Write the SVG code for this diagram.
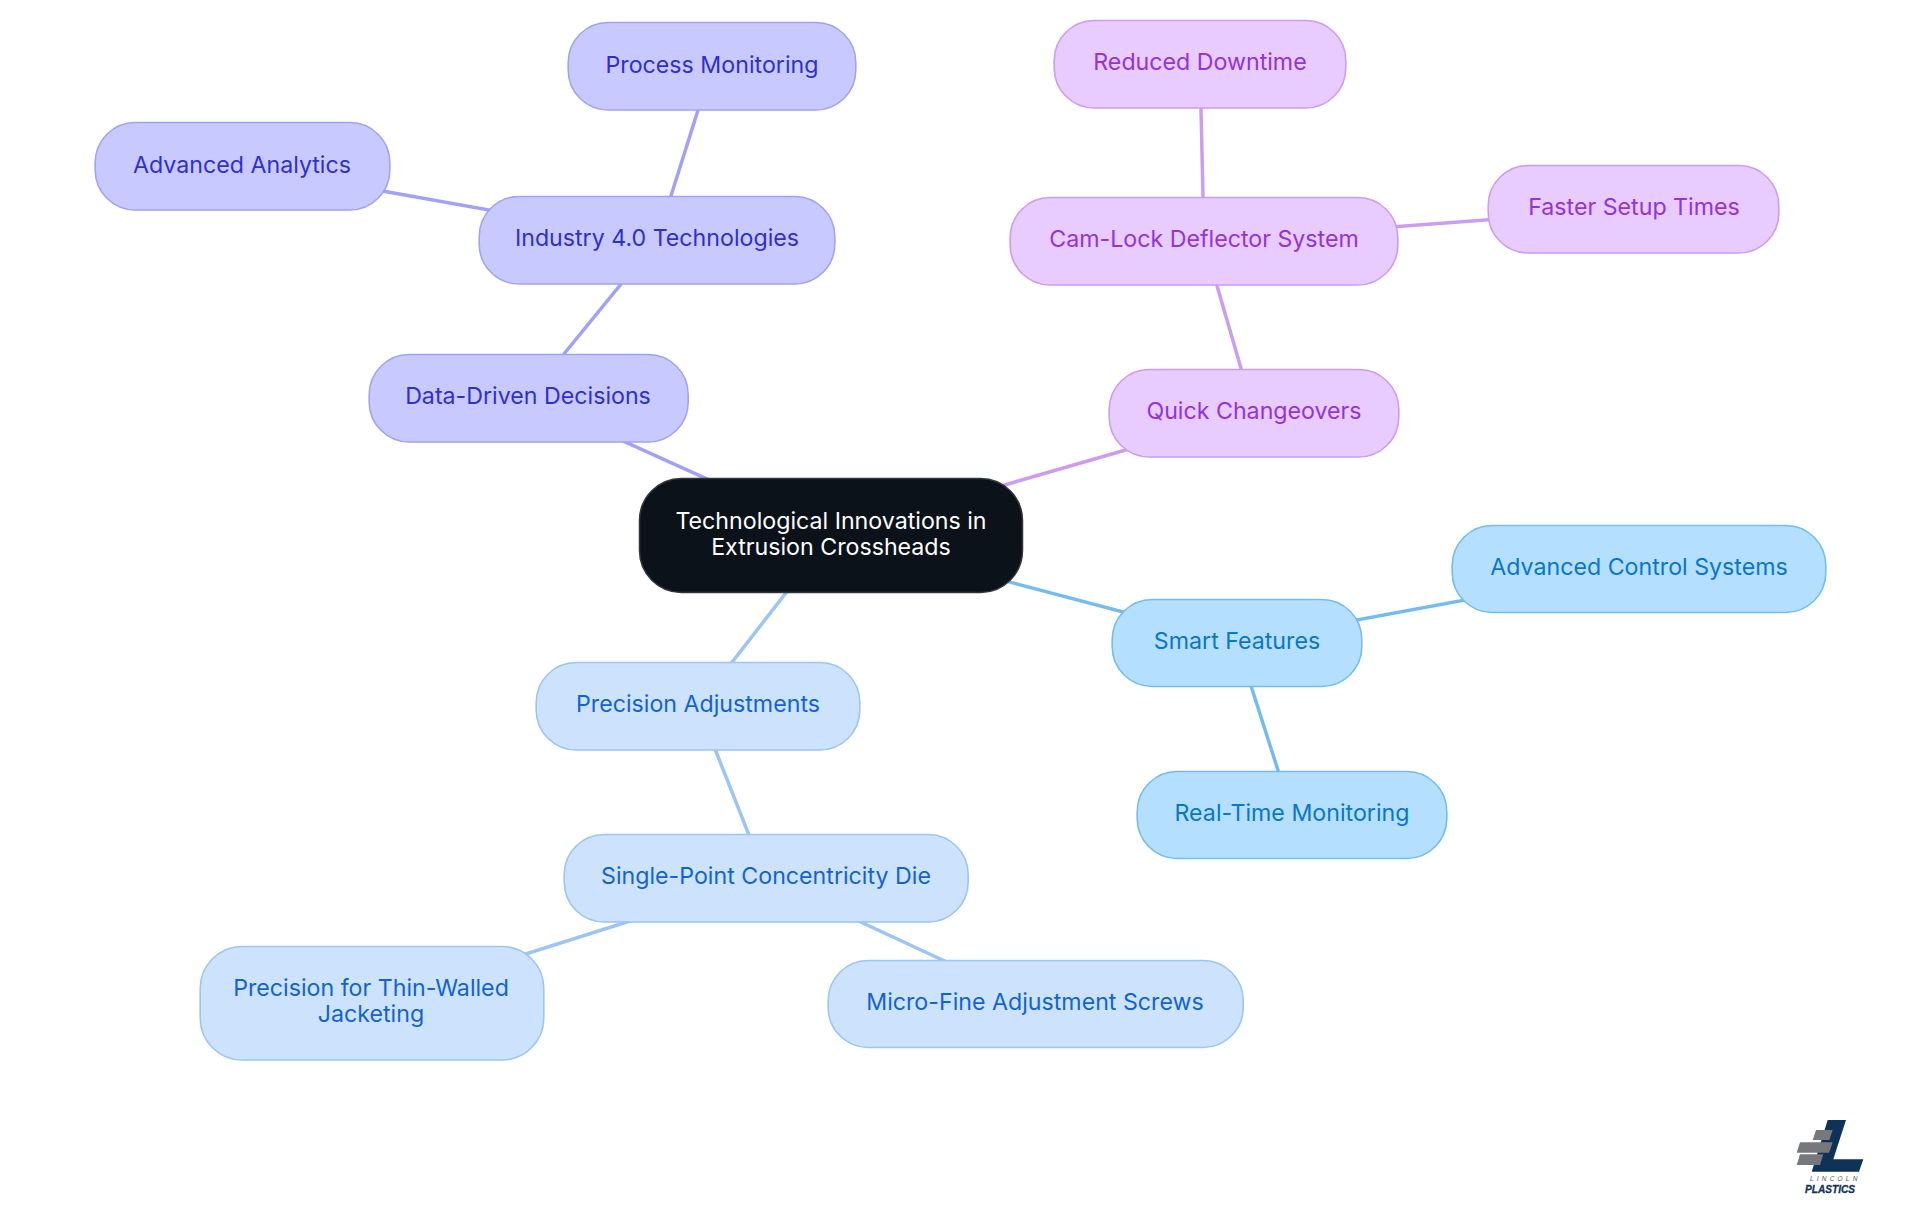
<svg xmlns="http://www.w3.org/2000/svg" width="1920" height="1215" viewBox="0 0 1920 1215">
<style>
.n{stroke-width:1.6}
.t{font-family:"Inter","Noto Sans",sans-serif;font-size:23.2px;text-anchor:middle}
.c line{stroke-width:3.5;fill:none}
.b1 rect{fill:#c8caff;stroke:#a0a3f5}.b1 text{fill:#2f2fd0}
.b2 rect{fill:#e8cbff;stroke:#cc9cf2}.b2 text{fill:#9333dc}
.b3 rect{fill:#cde3fd;stroke:#9cc4f4}.b3 text{fill:#1263d2}
.b4 rect{fill:#b5dfff;stroke:#74bcf0}.b4 text{fill:#0877c8}
</style>
<rect width="1920" height="1215" fill="#fff"/>
<g id="connectors" class="c">
<g stroke="#a0a3f5"><line x1="831" y1="535" x2="528" y2="398"/><line x1="528" y1="398" x2="657" y2="240"/><line x1="657" y1="240" x2="712" y2="66"/><line x1="657" y1="240" x2="242" y2="166"/></g>
<g stroke="#cc9cf2"><line x1="831" y1="535" x2="1254" y2="413"/><line x1="1254" y1="413" x2="1204" y2="241"/><line x1="1204" y1="241" x2="1200" y2="64"/><line x1="1204" y1="241" x2="1634" y2="209"/></g>
<g stroke="#9cc4f4"><line x1="831" y1="535" x2="698" y2="706"/><line x1="698" y1="706" x2="766" y2="878"/><line x1="766" y1="878" x2="371" y2="1003"/><line x1="766" y1="878" x2="1035" y2="1003"/></g>
<g stroke="#74bcf0"><line x1="831" y1="535" x2="1237" y2="642"/><line x1="1237" y1="642" x2="1639" y2="568"/><line x1="1237" y1="642" x2="1292" y2="814"/></g>
</g>
<g id="root"><rect x="639.5" y="478.5" width="383" height="114" rx="42" fill="#0b121a" stroke="#30363c" stroke-width="1.5"/><text class="t" fill="#fff" x="831" y="529">Technological Innovations in</text><text class="t" fill="#fff" x="831" y="555">Extrusion Crossheads</text></g>
<g id="data-driven" class="b1"><rect class="n" x="369.2" y="354.5" width="319" height="87.5" rx="40"/><text class="t" x="528" y="404">Data-Driven Decisions</text></g>
<g id="industry" class="b1"><rect class="n" x="479.2" y="196.5" width="355.6" height="87.5" rx="40"/><text class="t" x="657" y="246">Industry 4.0 Technologies</text></g>
<g id="process" class="b1"><rect class="n" x="568.2" y="22.5" width="287.6" height="87.5" rx="40"/><text class="t" x="712" y="73">Process Monitoring</text></g>
<g id="analytics" class="b1"><rect class="n" x="95.2" y="122.5" width="294.6" height="87.5" rx="40"/><text class="t" x="242" y="173">Advanced Analytics</text></g>
<g id="quick" class="b2"><rect class="n" x="1109.2" y="369.5" width="289.6" height="87.5" rx="40"/><text class="t" x="1254" y="419">Quick Changeovers</text></g>
<g id="camlock" class="b2"><rect class="n" x="1010.2" y="197.5" width="387.6" height="87.5" rx="40"/><text class="t" x="1204" y="247">Cam-Lock Deflector System</text></g>
<g id="downtime" class="b2"><rect class="n" x="1054.2" y="20.5" width="291.6" height="87.5" rx="40"/><text class="t" x="1200" y="70">Reduced Downtime</text></g>
<g id="setup" class="b2"><rect class="n" x="1488.2" y="165.5" width="290.6" height="87.5" rx="40"/><text class="t" x="1634" y="215">Faster Setup Times</text></g>
<g id="precision" class="b3"><rect class="n" x="536.2" y="662.5" width="323.6" height="87.5" rx="40"/><text class="t" x="698" y="712">Precision Adjustments</text></g>
<g id="single-point" class="b3"><rect class="n" x="564.2" y="834.5" width="404" height="87.5" rx="40"/><text class="t" x="766" y="884">Single-Point Concentricity Die</text></g>
<g id="thin-walled" class="b3"><rect class="n" x="200.2" y="946.5" width="343.6" height="113.5" rx="42"/><text class="t" x="371" y="996">Precision for Thin-Walled</text><text class="t" x="371" y="1022">Jacketing</text></g>
<g id="micro" class="b3"><rect class="n" x="828.2" y="960.5" width="415" height="87" rx="40"/><text class="t" x="1035" y="1010">Micro-Fine Adjustment Screws</text></g>
<g id="smart" class="b4"><rect class="n" x="1112.2" y="599.5" width="249.6" height="87" rx="40"/><text class="t" x="1237" y="649">Smart Features</text></g>
<g id="control" class="b4"><rect class="n" x="1452.2" y="525.5" width="373.6" height="87" rx="40"/><text class="t" x="1639" y="575">Advanced Control Systems</text></g>
<g id="realtime" class="b4"><rect class="n" x="1137.2" y="771.5" width="309.6" height="87" rx="40"/><text class="t" x="1292" y="821">Real-Time Monitoring</text></g>
<g id="logo">
<polygon points="1827.7,1120 1846,1120 1833.3,1159.3 1863.3,1159.3 1859,1171.7 1811.7,1171.7" fill="#0f3358"/>
<polygon points="1816,1130 1832.7,1130 1829.3,1140 1812.7,1140" fill="#77787b"/>
<polygon points="1800,1142.3 1832.7,1142.3 1829,1152.7 1796.7,1152.7" fill="#77787b"/>
<polygon points="1800,1154.3 1823.3,1154.3 1820,1165 1796.7,1165" fill="#77787b"/>
<text x="1810" y="1180.5" font-family="Liberation Sans,sans-serif" font-size="6.5" font-style="italic" letter-spacing="3.2" fill="#55565a">LINCOLN</text>
<text x="1805" y="1192.5" font-family="Liberation Sans,sans-serif" font-size="11" font-weight="700" font-style="italic" fill="#0f3358" stroke="#0f3358" stroke-width=".3" textLength="50" lengthAdjust="spacingAndGlyphs">PLASTICS</text>
</g>
</svg>
